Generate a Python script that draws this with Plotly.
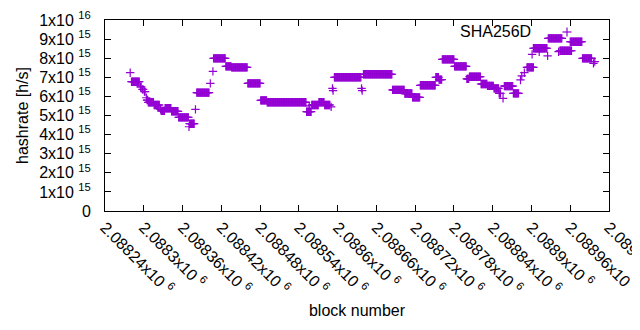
import plotly.graph_objects as go

# Segments of constant hashrate: first block, last block, hashrate (x10^15 h/s)
seg_first = [2088279, 2088281, 2088295, 2088298, 2088301, 2088304, 2088305, 2088307,
             2088316, 2088326, 2088327, 2088333, 2088343, 2088354, 2088370, 2088371,
             2088380, 2088382, 2088403, 2088407, 2088408, 2088427, 2088436, 2088461,
             2088481, 2088491, 2088552, 2088556, 2088560, 2088571, 2088580, 2088590,
             2088592, 2088593, 2088595, 2088637, 2088638, 2088640, 2088685, 2088704,
             2088716, 2088728, 2088752, 2088757, 2088762, 2088781, 2088800, 2088804,
             2088822, 2088832, 2088842, 2088850, 2088856, 2088858, 2088872, 2088883,
             2088885, 2088889, 2088893, 2088901, 2088903, 2088912, 2088914, 2088925,
             2088926, 2088942, 2088944, 2088960, 2088979, 2088996, 2088998]
seg_last = [2088279, 2088293, 2088296, 2088299, 2088302, 2088304, 2088306, 2088315,
            2088324, 2088326, 2088332, 2088342, 2088353, 2088369, 2088370, 2088378,
            2088380, 2088401, 2088403, 2088407, 2088426, 2088435, 2088460, 2088480,
            2088490, 2088551, 2088559, 2088556, 2088570, 2088579, 2088588, 2088590,
            2088592, 2088593, 2088636, 2088637, 2088638, 2088684, 2088703, 2088715,
            2088727, 2088751, 2088756, 2088761, 2088780, 2088799, 2088803, 2088821,
            2088831, 2088841, 2088849, 2088852, 2088856, 2088871, 2088880, 2088883,
            2088885, 2088889, 2088903, 2088901, 2088913, 2088912, 2088924, 2088925,
            2088947, 2088942, 2088962, 2088978, 2088993, 2088996, 2088998]
seg_rate_e15 = [7.24, 6.77, 6.50, 6.37, 6.25, 5.93, 5.81, 5.69,
                5.55, 5.32, 5.24, 5.38, 5.22, 4.90, 4.41, 4.57,
                5.32, 6.20, 6.68, 7.31, 7.99, 7.57, 7.52, 6.68,
                5.79, 5.69, 5.20, 5.50, 5.55, 5.69, 5.55, 5.45,
                6.42, 6.30, 7.00, 6.42, 6.30, 7.16, 6.34, 6.15,
                5.95, 6.58, 7.00, 6.88, 7.94, 7.57, 6.92, 7.03,
                6.65, 6.55, 6.42, 6.16, 5.90, 6.54, 6.16, 6.86,
                7.07, 7.24, 7.52, 8.20, 8.52, 8.34, 8.52, 8.12,
                9.04, 8.34, 8.39, 8.86, 7.99, 7.73, 7.82]

x_tickvals = [2088240, 2088300, 2088360, 2088420, 2088480, 2088540, 2088600,
              2088660, 2088720, 2088780, 2088840, 2088900, 2088960, 2089020]
x_ticktext = ["2.08824x10 <sup>6</sup>", "2.0883x10 <sup>6</sup>", "2.08836x10 <sup>6</sup>",
              "2.08842x10 <sup>6</sup>", "2.08848x10 <sup>6</sup>", "2.08854x10 <sup>6</sup>",
              "2.0886x10 <sup>6</sup>", "2.08866x10 <sup>6</sup>", "2.08872x10 <sup>6</sup>",
              "2.08878x10 <sup>6</sup>", "2.08884x10 <sup>6</sup>", "2.0889x10 <sup>6</sup>",
              "2.08896x10 <sup>6</sup>", "2.08902x10 <sup>6</sup>"]
y_tickvals = [0, 1e15, 2e15, 3e15, 4e15, 5e15, 6e15, 7e15, 8e15, 9e15, 1e16]
y_ticktext = ["0", "1x10 <sup>15</sup>", "2x10 <sup>15</sup>", "3x10 <sup>15</sup>",
              "4x10 <sup>15</sup>", "5x10 <sup>15</sup>", "6x10 <sup>15</sup>",
              "7x10 <sup>15</sup>", "8x10 <sup>15</sup>", "9x10 <sup>15</sup>",
              "1x10 <sup>16</sup>"]

blocks, rates = [], []
for a, b, r in zip(seg_first, seg_last, seg_rate_e15):
    for blk in range(a, b + 1):
        blocks.append(blk)
        rates.append(r * 1e15)

PURPLE = "#9400D3"
FONT = "Liberation Sans, Arial, sans-serif"
FS = 16
# page body has an 8px default margin; figure is offset accordingly
PW, PH = 504, 191   # plot area size in px

fig = go.Figure()
fig.add_trace(go.Scatter(
    x=blocks, y=rates, mode="markers", name="SHA256D",
    marker=dict(symbol="cross-thin", size=6, color=PURPLE,
                line=dict(color=PURPLE, width=1.2)),
    showlegend=False,
))

fig.update_layout(
    width=632, height=322,
    margin=dict(l=97, r=31, t=12, b=119),
    paper_bgcolor="white", plot_bgcolor="white",
    font=dict(family=FONT, size=FS, color="black"),
    annotations=[dict(text="SHA256D", xref="paper", yref="paper",
                      x=(533 - 105) / PW, y=(211 - 31) / PH,
                      xanchor="right", yanchor="middle", showarrow=False,
                      font=dict(family=FONT, size=FS, color="black"))],
    shapes=[
        dict(type="line", xref="paper", yref="paper",
             x0=(567 - 4.5 - 105) / PW, x1=(567 + 4.5 - 105) / PW,
             y0=(211 - 32) / PH, y1=(211 - 32) / PH,
             line=dict(color=PURPLE, width=1.2)),
        dict(type="line", xref="paper", yref="paper",
             x0=(567 - 105) / PW, x1=(567 - 105) / PW,
             y0=(211 - 32 - 4.5) / PH, y1=(211 - 32 + 4.5) / PH,
             line=dict(color=PURPLE, width=1.2)),
    ],
)
fig.update_xaxes(
    range=[2088240, 2089020], tickvals=x_tickvals, ticktext=x_ticktext,
    tickangle=45, ticks="inside", ticklen=6, tickcolor="black",
    showline=True, linecolor="black", linewidth=1, mirror="ticks",
    showgrid=False, zeroline=False, automargin=False, ticklabeloverflow="allow",
    title=dict(text="block number", font=dict(size=FS), standoff=8),
    tickfont=dict(size=FS),
)
fig.update_yaxes(
    range=[0, 1e16], tickvals=y_tickvals, ticktext=y_ticktext,
    ticks="inside", ticklen=6, tickcolor="black",
    showline=True, linecolor="black", linewidth=1, mirror="ticks",
    showgrid=False, zeroline=False, ticklabelstandoff=10, automargin=False,
    title=dict(text="hashrate [h/s]", font=dict(size=FS), standoff=6),
    tickfont=dict(size=FS),
)

fig.write_html("out.html")
